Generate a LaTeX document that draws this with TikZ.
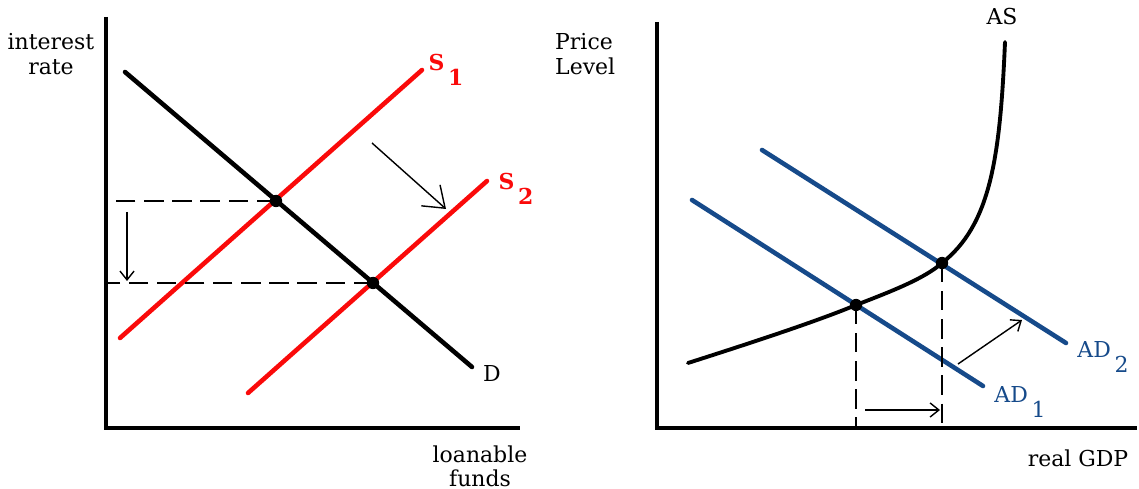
\documentclass[tikz,border=0pt]{standalone}
\usepackage{fontspec}
\setmainfont{DejaVu Serif}
\usepackage{xcolor}
\usetikzlibrary{arrows.meta}

\definecolor{adblue}{RGB}{22,74,138}
\definecolor{sred}{RGB}{250,10,10}

\begin{document}
\begin{tikzpicture}[x=0.02cm,y=-0.02cm,
    font=\fontsize{12.5}{13.8}\selectfont,
    axis/.style={line width=2.8pt},
    curve/.style={line width=2.6pt,line cap=round},
    guide/.style={line width=1.1pt,dash pattern=on 11pt off 5pt},
    move/.style={line width=0.8pt,-{Straight Barb[length=5pt,width=8pt]}},
    dot/.style={circle,fill,inner sep=0pt,minimum size=7pt},
    lbl/.style={inner sep=1pt}]
    \useasboundingbox (0,0) rectangle (1139,489);

    % loanable funds market
    \coordinate (lo) at (106,428);
    \coordinate (ltop) at (106,17);
    \coordinate (lend) at (520,428);
    \draw[axis] (ltop) -- (lo) -- (lend);
    \node[align=center] (ylab1) at (51,54) {interest\\rate};
    \node[align=center] (xlab1) at (480,466) {loanable\\funds};

    \coordinate (d0) at (125,72);
    \coordinate (d1) at (472,367);
    \coordinate (s1a) at (120,338);
    \coordinate (s1b) at (422,70);
    \coordinate (s2a) at (248,393);
    \coordinate (s2b) at (487,181);
    \draw[curve] (d0) -- (d1);
    \draw[curve,sred] (s1a) -- (s1b);
    \draw[curve,sred] (s2a) -- (s2b);
    \node[lbl] (dlab) at (492,373) {D};
    \node[lbl,sred] (s1lab) at (446,70) {\bfseries S\,\raisebox{-1.3ex}{1}};
    \node[lbl,sred] (s2lab) at (516,189) {\bfseries S\,\raisebox{-1.3ex}{2}};

    \node[dot] (e1) at (276,201) {};
    \node[dot] (e2) at (373,283) {};
    \draw[guide] (e1.center) -- (e1 -| lo);
    \draw[guide] (e2.center) -- (e2 -| lo);

    \coordinate (r0) at (127,212);
    \coordinate (r1) at (127,281);
    \draw[move] (r0) -- (r1);
    \coordinate (sh0) at (372,143);
    \coordinate (sh1) at (446,209);
    \draw[move,-{Straight Barb[length=11pt,width=16pt]}] (sh0) -- (sh1);

    % aggregate demand and supply
    \coordinate (ro) at (657,428);
    \coordinate (rtop) at (657,22);
    \coordinate (rend) at (1137,428);
    \draw[axis] (rtop) -- (ro) -- (rend);
    \node[anchor=west,align=left] (ylab2) at (549,54) {Price\\Level};
    \node (xlab2) at (1078,458) {real GDP};

    \coordinate (a1a) at (692,200);
    \coordinate (a1b) at (983,386);
    \coordinate (a2a) at (762,150);
    \coordinate (a2b) at (1066,343);
    \draw[curve,adblue] (a1a) -- (a1b);
    \draw[curve,adblue] (a2a) -- (a2b);
    \node[lbl,adblue] (ad1lab) at (1020,402) {AD\,\raisebox{-1.3ex}{1}};
    \node[lbl,adblue] (ad2lab) at (1103,357) {AD\,\raisebox{-1.3ex}{2}};

    \node[dot] (f1) at (856,305) {};
    \node[dot] (f2) at (942,263) {};
    \draw[line width=2.2pt,line cap=round] (688,363) .. controls (760,340) and (820,320) .. (f1.center)
        .. controls (895,290) and (925,278) .. (f2.center)
        .. controls (990,225) and (1000,160) .. (1005,42);
    \node[lbl] (aslab) at (1002,17) {AS};

    \draw[guide] (f1.center) -- (f1 |- ro);
    \draw[guide] (f2.center) -- (f2 |- ro);

    \coordinate (q0) at (865,410);
    \coordinate (q1) at (940,410);
    \draw[move] (q0) -- (q1);
    \coordinate (m0) at (958,364);
    \coordinate (m1) at (1022,320);
    \draw[move] (m0) -- (m1);
\end{tikzpicture}
\end{document}
